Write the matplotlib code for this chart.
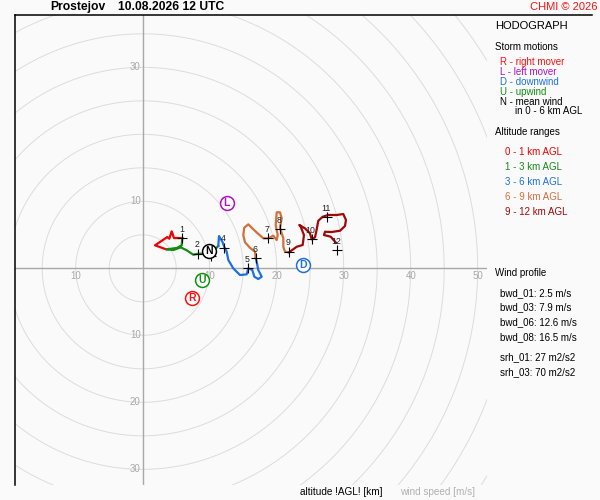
import matplotlib
matplotlib.use('Agg')
import numpy as np
import matplotlib.pyplot as plt
from matplotlib.lines import Line2D

plt.rcParams['font.family'] = ['Liberation Sans', 'DejaVu Sans']

# hodograph trace, u / v components in m/s, one list per altitude range
u_0_1 = [3.48, 1.84, 3.67, 3.97, 4.33, 4.67, 5.91]
v_0_1 = [2.84, 3.43, 4.67, 4.42, 5.52, 4.52, 4.52]

u_1_3 = [5.91, 5.82, 5.07, 3.58, 4.57, 5.67, 6.57, 7.55, 8.30, 9.79, 10.79, 11.28]
v_1_3 = [4.52, 3.43, 3.03, 2.84, 2.73, 3.13, 2.69, 2.03, 2.18, 2.18, 2.84, 3.33]

u_3_6 = [11.28, 11.39, 11.91, 12.18, 12.54, 12.78, 13.52, 14.52, 15.52, 15.76,
         16.36, 16.66, 17.25, 17.76, 17.25, 17.01, 16.87]
v_3_6 = [3.33, 4.82, 3.93, 3.18, 2.48, 1.24, 0.0, -1.0, -0.90, 0.0,
         -0.25, -1.25, -1.60, -1.25, -0.25, 0.99, 1.58]

u_6_9 = [16.87, 16.76, 16.01, 15.27, 15.01, 15.16, 15.76, 16.36, 17.16, 18.0, 18.75,
         19.49, 20.0, 20.15, 19.85, 20.0, 20.49, 20.75, 20.49, 20.75, 20.99, 20.99,
         21.24, 21.84]
v_6_9 = [1.58, 2.48, 3.07, 3.88, 4.97, 6.06, 6.57, 5.97, 5.22, 4.48, 4.48,
         4.87, 4.22, 4.97, 6.46, 8.36, 8.36, 7.46, 6.06, 5.22, 4.48, 3.22,
         2.48, 2.39]

u_9_12 = [21.84, 22.99, 23.88, 24.07, 23.58, 23.37, 24.22, 24.97, 25.22, 25.72, 25.97,
          26.21, 26.87, 27.70, 28.96, 29.94, 30.34, 30.19, 29.45, 28.21, 27.21, 27.06,
          28.06, 28.85]
v_9_12 = [2.39, 3.22, 3.48, 4.97, 6.21, 6.46, 5.97, 5.22, 4.33, 4.63, 5.82,
          7.10, 7.70, 7.96, 7.96, 8.10, 7.21, 6.31, 5.61, 5.42, 5.46, 4.97,
          4.72, 3.82]

# altitude marks [km]; the 3 km label is hidden under the N circle in the original
mark_km = [1, 2, 3, 4, 5, 6, 7, 8, 9, 10, 11, 12]
mark_u = [5.91, 8.30, 10.19, 12.18, 15.76, 16.91, 18.75, 20.49, 21.88, 25.22, 27.51, 29.04]
mark_v = [4.52, 2.18, 1.84, 3.10, 0.04, 1.49, 4.48, 5.82, 2.48, 4.33, 7.61, 2.73]
mark_shown = [1, 2, 4, 5, 6, 7, 8, 9, 10, 11, 12]

# storm motions
storm_names = ['R', 'U', 'N', 'L', 'D']
storm_u = [7.31, 8.90, 9.90, 12.54, 23.97]
storm_v = [-4.48, -1.75, 2.58, 9.70, 0.49]

wind_profile = ['bwd_01: 2.5 m/s', 'bwd_03: 7.9 m/s', 'bwd_06: 12.6 m/s',
                'bwd_08: 16.5 m/s', 'srh_01: 27 m2/s2', 'srh_03: 70 m2/s2']

layer_colors = ['#f00000', '#168a16', '#1f6fe0', '#d2703c', '#a00808']
storm_colors = {'R': '#ff1010', 'L': '#b010c0', 'D': '#1f6fe0', 'U': '#109010', 'N': '#000000'}

W, H = 600, 500
bg = '#fafafa'
fig = plt.figure(figsize=(6, 5), dpi=100, facecolor=bg)

ax = fig.add_axes([15 / W, 1 - 485 / H, 472 / W, 470 / H])
ax.set_xlim(-19.06, 51.39)
ax.set_ylim(-32.34, 37.81)
ax.set_facecolor(bg)
ax.axis('off')

t = np.linspace(0, 2 * np.pi, 721)
for r in range(5, 70, 5):
    ax.plot(r * np.cos(t), r * np.sin(t), color='#dcdcdc', lw=0.7, zorder=1)
ax.axhline(0, color='#a8a8a8', lw=1.0, zorder=2)
ax.axvline(0, color='#a8a8a8', lw=1.0, zorder=2)

for val in [-10, 10, 20, 30, 40, 50]:
    ax.annotate(str(abs(val)), (val, 0), xytext=(0, -8), textcoords='offset pixels',
                ha='center', va='center', fontsize=7, color='#a8a8a8', zorder=2)
for val in [30, 10, -10, -20, -30]:
    ax.annotate(str(abs(val)), (0, val), xytext=(-2, 0), textcoords='offset pixels',
                ha='right', va='center', fontsize=7, color='#a8a8a8', zorder=2)

layers = [(u_0_1, v_0_1), (u_1_3, v_1_3), (u_3_6, v_3_6), (u_6_9, v_6_9), (u_9_12, v_9_12)]
for (u, v), c in zip(layers, layer_colors):
    ax.plot(u, v, color=c, lw=1.6, zorder=3)

ax.plot(mark_u, mark_v, '+', color='black', ms=7.5, mew=0.8, zorder=4)
for km, u, v in zip(mark_km, mark_u, mark_v):
    if km not in mark_shown:
        continue
    ax.annotate(str(km), (u, v), xytext=(-1, 9), textcoords='offset pixels',
                ha='center', va='center', fontsize=6.3, color='#202020', zorder=4)

for name, u, v in zip(storm_names, storm_u, storm_v):
    c = storm_colors[name]
    ax.plot(u, v, 'o', ms=10, mfc='white', mec=c, mew=1.1, zorder=5)
    ax.text(u, v, name, color=c, fontsize=7.5, fontweight='bold',
            ha='center', va='center', zorder=6)

# frame lines
fig.add_artist(Line2D([15 / W, 592 / W], [1 - 15 / H, 1 - 15 / H], color='black', lw=1.1))
fig.add_artist(Line2D([15 / W, 15 / W], [1 - 15 / H, 1 - 485 / H], color='black', lw=1.1))


def ftext(x, y, s, **kw):
    fig.text(x / W, 1 - y / H, s, ha=kw.pop('ha', 'left'), va='center', **kw)


ftext(50, 7, 'Prostejov', fontsize=8.7, fontweight='bold')
ftext(118, 7, '10.08.2026 12 UTC', fontsize=8.7, fontweight='bold')
ftext(597, 7, 'CHMI © 2026', fontsize=8, color='#ff1010', ha='right')

ftext(495, 26, 'HODOGRAPH', fontsize=8)
ftext(495, 47, 'Storm motions', fontsize=7)
ftext(500, 62, 'R - right mover', fontsize=7, color=storm_colors['R'])
ftext(500, 72, 'L - left mover', fontsize=7, color=storm_colors['L'])
ftext(500, 82, 'D - downwind', fontsize=7, color=storm_colors['D'])
ftext(500, 92, 'U - upwind', fontsize=7, color=storm_colors['U'])
ftext(500, 102, 'N - mean wind', fontsize=7, color='black')
ftext(515, 111, 'in 0 - 6 km AGL', fontsize=7, color='black')

ftext(495, 132, 'Altitude ranges', fontsize=7)
ranges = ['0 - 1 km AGL', '1 - 3 km AGL', '3 - 6 km AGL', '6 - 9 km AGL', '9 - 12 km AGL']
for i, (s, c) in enumerate(zip(ranges, layer_colors)):
    ftext(505, 152 + i * 15, s, fontsize=7, color=c)

ftext(495, 273, 'Wind profile', fontsize=7)
ys = [293, 307, 322, 337, 357, 372]
for y, s in zip(ys, wind_profile):
    ftext(500, y, s, fontsize=7)

ftext(300, 492, 'altitude !AGL! [km]', fontsize=7.2)
ftext(400, 492, 'wind speed [m/s]', fontsize=7.2, color='#b0b0b0')

fig.savefig('out.png', dpi=100, facecolor=bg)
